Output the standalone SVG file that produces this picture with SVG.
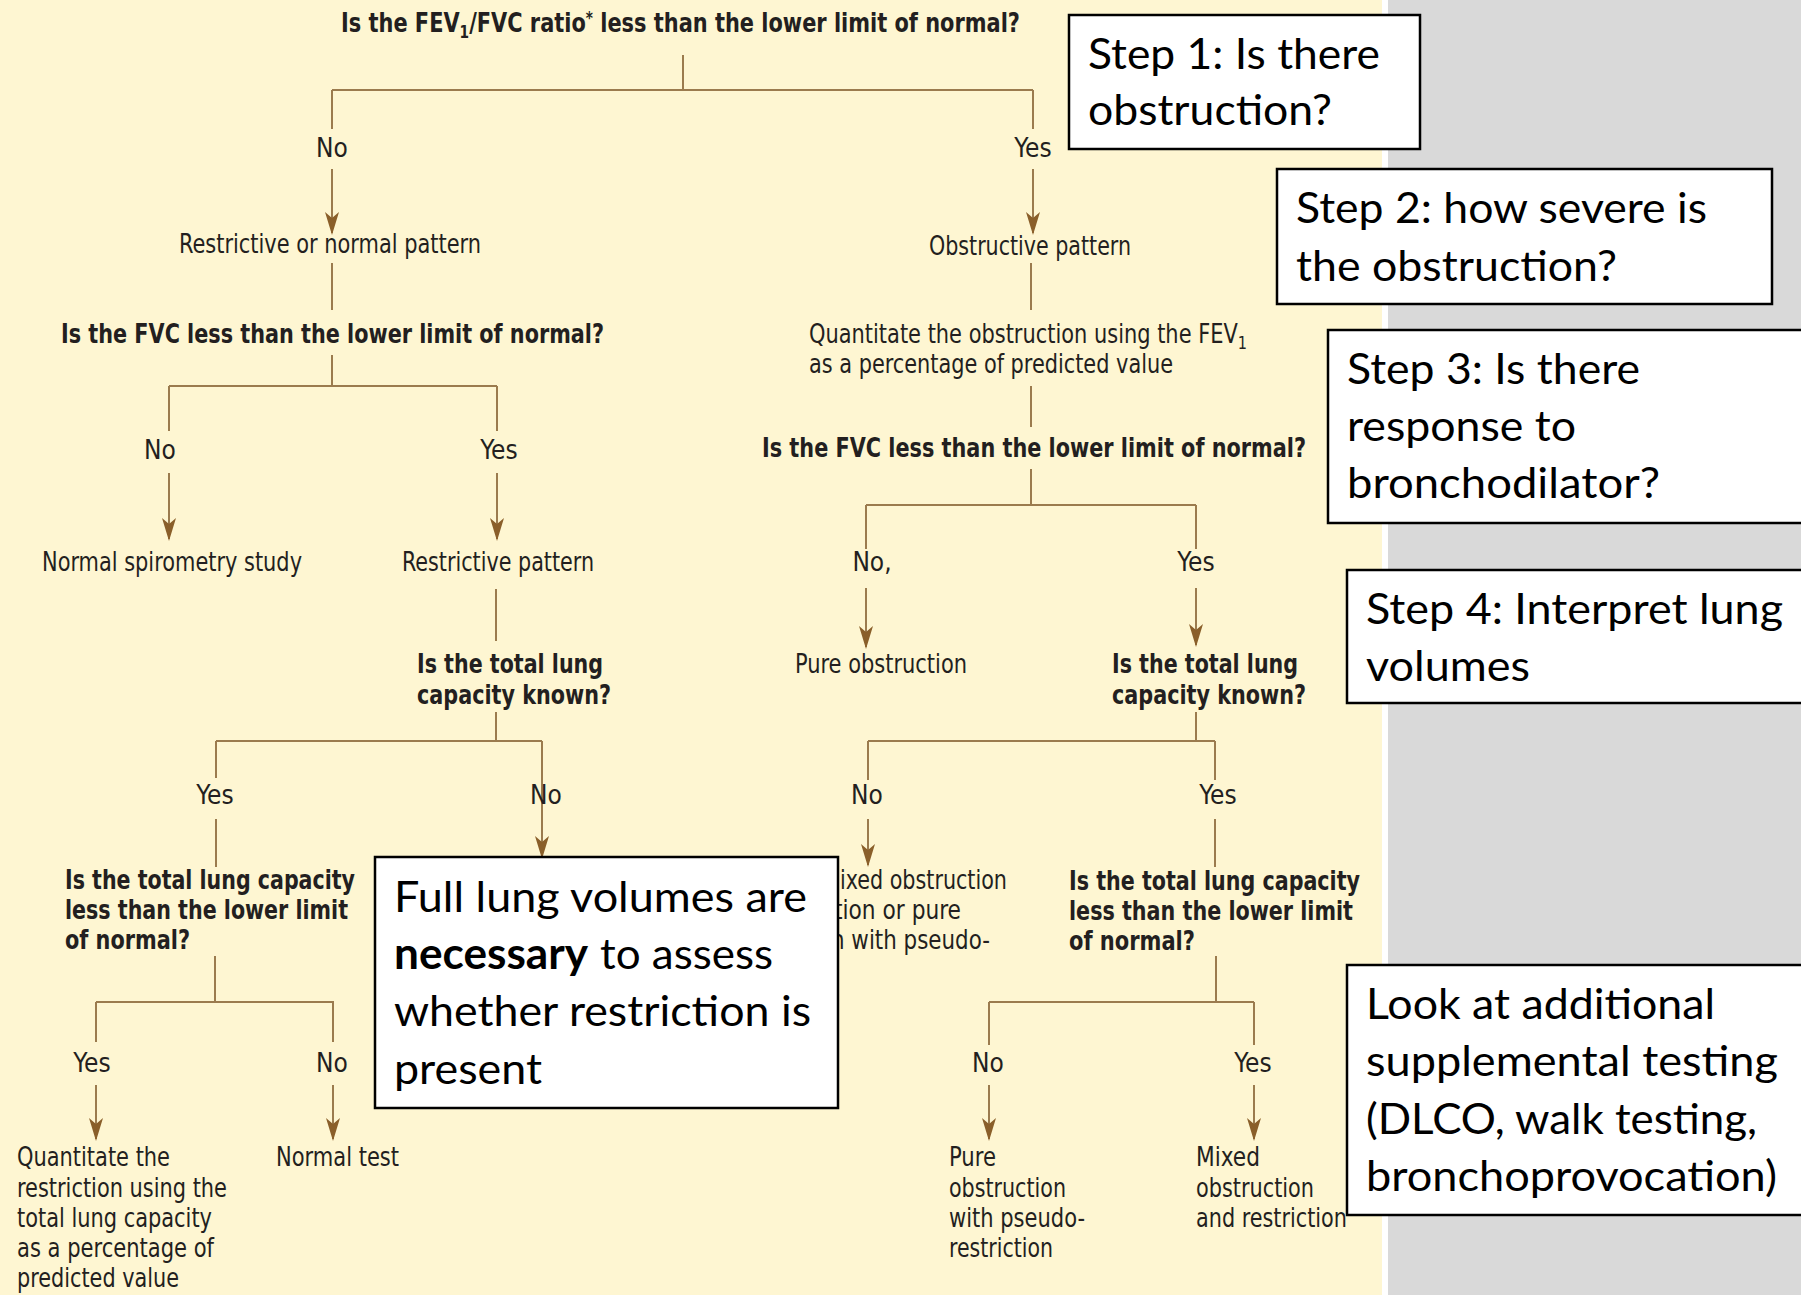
<svg xmlns="http://www.w3.org/2000/svg" width="1801" height="1295" viewBox="0 0 1801 1295">
<style>
.t{font-family:"Liberation Sans Narrow","DejaVu Sans Condensed","Liberation Sans",sans-serif;font-size:26px;fill:#231f20}
.b{font-family:"Liberation Sans Narrow","DejaVu Sans Condensed","Liberation Sans",sans-serif;font-size:26px;font-weight:bold;fill:#231f20}
.lb{font-family:"Liberation Sans Narrow","DejaVu Sans Condensed","Liberation Sans",sans-serif;font-size:26px;fill:#231f20;text-anchor:middle}
.s{font-family:Lato,"Open Sans",sans-serif;font-size:43px;fill:#000}
.sb{font-family:Lato,"Open Sans",sans-serif;font-size:43px;font-weight:bold;fill:#000}
.box{fill:#fff;stroke:#000;stroke-width:2.5}
.ln{fill:none;stroke:#9b7b4e;stroke-width:2}
.ar{fill:none;stroke:#9b7b4e;stroke-width:2;marker-end:url(#ah)}
</style>
<defs>
<marker id="ah" markerUnits="userSpaceOnUse" markerWidth="26" markerHeight="14" refX="21" refY="7" orient="auto">
<path d="M0,0 L23,7 L0,14 L6,7 Z" fill="#8a5f2a"/>
</marker>
</defs>
<rect x="0" y="0" width="1801" height="1295" fill="#fef6d2"/>
<rect x="1382" y="0" width="6" height="1295" fill="#ffffff"/>
<rect x="1388" y="0" width="413" height="1295" fill="#d9d9d9"/>

<g id="connectors">
<path class="ln" d="M683,55 V90 M332,90 H1033 M332,90 V129 M1033,90 V129"/>
<path class="ar" d="M332,169 V233"/>
<path class="ar" d="M1033,169 V233"/>
<path class="ln" d="M332,263 V310 M332,355 V386 M169,386 H497 M169,386 V431 M497,386 V431"/>
<path class="ar" d="M169,473 V539"/>
<path class="ar" d="M497,473 V539"/>
<path class="ln" d="M496,589 V641 M496,712 V741 M216,741 H542 M216,741 V778 M216,819 V867"/>
<path class="ar" d="M542,741 V857"/>
<path class="ln" d="M215,956 V1002 M96,1002 H334 M96,1002 V1042 M333,1002 V1042"/>
<path class="ar" d="M96,1085 V1139"/>
<path class="ar" d="M333,1085 V1139"/>
<path class="ln" d="M1031,263 V310 M1031,386 V427 M1031,469 V505 M866,505 H1196 M866,505 V549 M1196,505 V549"/>
<path class="ar" d="M866,588 V647"/>
<path class="ar" d="M1196,588 V645"/>
<path class="ln" d="M1196,712 V741 M868,741 H1215 M868,741 V780 M1215,741 V780 M1215,819 V867"/>
<path class="ar" d="M868,819 V865"/>
<path class="ln" d="M1216,956 V1002 M989,1002 H1254 M989,1002 V1045 M1254,1002 V1045"/>
<path class="ar" d="M989,1085 V1139"/>
<path class="ar" d="M1254,1085 V1139"/>
</g>

<g id="q-fev1-fvc">
<text class="b" x="341" y="32" textLength="679" lengthAdjust="spacingAndGlyphs">Is the FEV<tspan font-size="17" dy="6">1</tspan><tspan dy="-6">/FVC ratio</tspan><tspan font-size="17" dy="-8">*</tspan><tspan dy="8"> less than the lower limit of normal?</tspan></text>
</g>
<g id="lbl-no-1"><text class="lb" x="332" y="157">No</text></g>
<g id="lbl-yes-1"><text class="lb" x="1033" y="157">Yes</text></g>
<g id="restrictive-or-normal"><text class="t" x="179" y="253" textLength="302" lengthAdjust="spacingAndGlyphs">Restrictive or normal pattern</text></g>
<g id="obstructive-pattern"><text class="t" x="929" y="255" textLength="202" lengthAdjust="spacingAndGlyphs">Obstructive pattern</text></g>

<g id="q-fvc-left"><text class="b" x="61" y="343" textLength="543" lengthAdjust="spacingAndGlyphs">Is the FVC less than the lower limit of normal?</text></g>
<g id="lbl-no-2"><text class="lb" x="160" y="459">No</text></g>
<g id="lbl-yes-2"><text class="lb" x="499" y="459">Yes</text></g>
<g id="normal-spirometry"><text class="t" x="42" y="571" textLength="260" lengthAdjust="spacingAndGlyphs">Normal spirometry study</text></g>
<g id="restrictive-pattern"><text class="t" x="402" y="571" textLength="192" lengthAdjust="spacingAndGlyphs">Restrictive pattern</text></g>
<g id="q-tlc-known-left">
<text class="b" x="417" y="673" textLength="186" lengthAdjust="spacingAndGlyphs">Is the total lung</text>
<text class="b" x="417" y="704" textLength="194" lengthAdjust="spacingAndGlyphs">capacity known?</text>
</g>
<g id="lbl-yes-3"><text class="lb" x="215" y="804">Yes</text></g>
<g id="lbl-no-3"><text class="lb" x="546" y="804">No</text></g>
<g id="q-tlc-less-left">
<text class="b" x="65" y="889" textLength="290" lengthAdjust="spacingAndGlyphs">Is the total lung capacity</text>
<text class="b" x="65" y="919" textLength="283" lengthAdjust="spacingAndGlyphs">less than the lower limit</text>
<text class="b" x="65" y="949" textLength="125" lengthAdjust="spacingAndGlyphs">of normal?</text>
</g>
<g id="lbl-yes-4"><text class="lb" x="92" y="1072">Yes</text></g>
<g id="lbl-no-4"><text class="lb" x="332" y="1072">No</text></g>
<g id="quantitate-restriction">
<text class="t" x="17" y="1166" textLength="153" lengthAdjust="spacingAndGlyphs">Quantitate the</text>
<text class="t" x="17" y="1197" textLength="210" lengthAdjust="spacingAndGlyphs">restriction using the</text>
<text class="t" x="17" y="1227" textLength="195" lengthAdjust="spacingAndGlyphs">total lung capacity</text>
<text class="t" x="17" y="1257" textLength="197" lengthAdjust="spacingAndGlyphs">as a percentage of</text>
<text class="t" x="17" y="1287" textLength="162" lengthAdjust="spacingAndGlyphs">predicted value</text>
</g>
<g id="normal-test"><text class="t" x="276" y="1166" textLength="123" lengthAdjust="spacingAndGlyphs">Normal test</text></g>

<g id="quantitate-obstruction">
<text class="t" x="809" y="343" textLength="438" lengthAdjust="spacingAndGlyphs">Quantitate the obstruction using the FEV<tspan font-size="18" dy="6">1</tspan></text>
<text class="t" x="809" y="373" textLength="364" lengthAdjust="spacingAndGlyphs">as a percentage of predicted value</text>
</g>
<g id="q-fvc-right"><text class="b" x="762" y="457" textLength="544" lengthAdjust="spacingAndGlyphs">Is the FVC less than the lower limit of normal?</text></g>
<g id="lbl-no-5"><text class="lb" x="872" y="571">No,</text></g>
<g id="lbl-yes-5"><text class="lb" x="1196" y="571">Yes</text></g>
<g id="pure-obstruction"><text class="t" x="795" y="673" textLength="172" lengthAdjust="spacingAndGlyphs">Pure obstruction</text></g>
<g id="q-tlc-known-right">
<text class="b" x="1112" y="673" textLength="186" lengthAdjust="spacingAndGlyphs">Is the total lung</text>
<text class="b" x="1112" y="704" textLength="194" lengthAdjust="spacingAndGlyphs">capacity known?</text>
</g>
<g id="lbl-no-6"><text class="lb" x="867" y="804">No</text></g>
<g id="lbl-yes-6"><text class="lb" x="1218" y="804">Yes</text></g>
<g id="mixed-or-pure">
<text class="t" x="840" y="889" textLength="167" lengthAdjust="spacingAndGlyphs">ixed obstruction</text>
<text class="t" x="834" y="919" textLength="127" lengthAdjust="spacingAndGlyphs">tion or pure</text>
<text class="t" x="831" y="949" textLength="159" lengthAdjust="spacingAndGlyphs">n with pseudo-</text>
</g>
<g id="q-tlc-less-right">
<text class="b" x="1069" y="890" textLength="291" lengthAdjust="spacingAndGlyphs">Is the total lung capacity</text>
<text class="b" x="1069" y="920" textLength="284" lengthAdjust="spacingAndGlyphs">less than the lower limit</text>
<text class="b" x="1069" y="950" textLength="126" lengthAdjust="spacingAndGlyphs">of normal?</text>
</g>
<g id="lbl-no-7"><text class="lb" x="988" y="1072">No</text></g>
<g id="lbl-yes-7"><text class="lb" x="1253" y="1072">Yes</text></g>
<g id="pure-pseudo">
<text class="t" x="949" y="1166" textLength="47" lengthAdjust="spacingAndGlyphs">Pure</text>
<text class="t" x="949" y="1197" textLength="117" lengthAdjust="spacingAndGlyphs">obstruction</text>
<text class="t" x="949" y="1227" textLength="136" lengthAdjust="spacingAndGlyphs">with pseudo-</text>
<text class="t" x="949" y="1257" textLength="104" lengthAdjust="spacingAndGlyphs">restriction</text>
</g>
<g id="mixed-obstruction">
<text class="t" x="1196" y="1166" textLength="64" lengthAdjust="spacingAndGlyphs">Mixed</text>
<text class="t" x="1196" y="1197" textLength="118" lengthAdjust="spacingAndGlyphs">obstruction</text>
<text class="t" x="1196" y="1227" textLength="151" lengthAdjust="spacingAndGlyphs">and restriction</text>
</g>

<g id="note-full-lung">
<rect class="box" x="375" y="857" width="463" height="251"/>
<text class="s" x="394" y="912" textLength="413" lengthAdjust="spacingAndGlyphs">Full lung volumes are</text>
<text class="sb" x="394" y="969" textLength="194" lengthAdjust="spacingAndGlyphs">necessary</text>
<text class="s" x="600" y="969" textLength="173" lengthAdjust="spacingAndGlyphs">to assess</text>
<text class="s" x="394" y="1026" textLength="417" lengthAdjust="spacingAndGlyphs">whether restriction is</text>
<text class="s" x="394" y="1084" textLength="148" lengthAdjust="spacingAndGlyphs">present</text>
</g>
<g id="step-1">
<rect class="box" x="1069" y="15" width="351" height="134"/>
<text class="s" x="1088" y="69" textLength="292" lengthAdjust="spacingAndGlyphs">Step 1: Is there</text>
<text class="s" x="1088" y="125" textLength="244" lengthAdjust="spacingAndGlyphs">obstruction?</text>
</g>
<g id="step-2">
<rect class="box" x="1277" y="169" width="495" height="135"/>
<text class="s" x="1296" y="223" textLength="411" lengthAdjust="spacingAndGlyphs">Step 2: how severe is</text>
<text class="s" x="1296" y="281" textLength="321" lengthAdjust="spacingAndGlyphs">the obstruction?</text>
</g>
<g id="step-3">
<rect class="box" x="1328" y="330" width="480" height="193"/>
<text class="s" x="1347" y="384" textLength="293" lengthAdjust="spacingAndGlyphs">Step 3: Is there</text>
<text class="s" x="1347" y="441" textLength="229" lengthAdjust="spacingAndGlyphs">response to</text>
<text class="s" x="1347" y="498" textLength="313" lengthAdjust="spacingAndGlyphs">bronchodilator?</text>
</g>
<g id="step-4">
<rect class="box" x="1347" y="570" width="460" height="133"/>
<text class="s" x="1366" y="624" textLength="417" lengthAdjust="spacingAndGlyphs">Step 4: Interpret lung</text>
<text class="s" x="1366" y="681" textLength="164" lengthAdjust="spacingAndGlyphs">volumes</text>
</g>
<g id="note-supplemental">
<rect class="box" x="1347" y="965" width="460" height="250"/>
<text class="s" x="1366" y="1019" textLength="349" lengthAdjust="spacingAndGlyphs">Look at additional</text>
<text class="s" x="1366" y="1076" textLength="412" lengthAdjust="spacingAndGlyphs">supplemental testing</text>
<text class="s" x="1366" y="1134" textLength="391" lengthAdjust="spacingAndGlyphs">(DLCO, walk testing,</text>
<text class="s" x="1366" y="1191" textLength="411" lengthAdjust="spacingAndGlyphs">bronchoprovocation)</text>
</g>
</svg>
